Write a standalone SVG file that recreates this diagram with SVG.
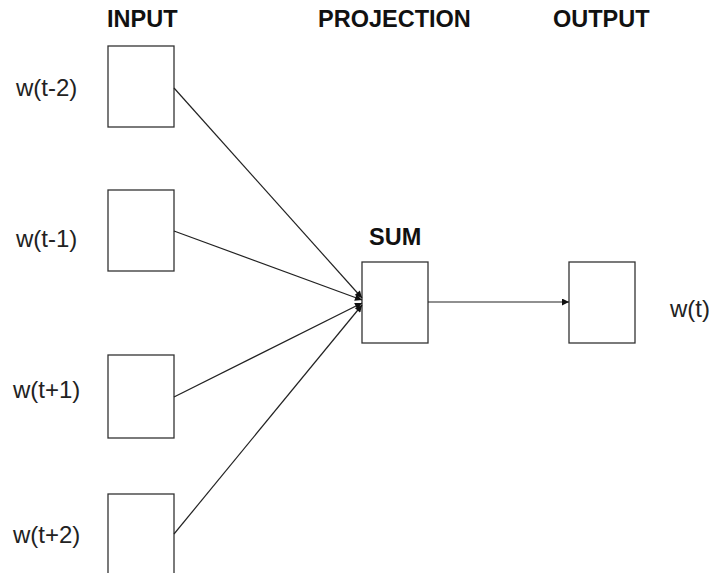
<svg xmlns="http://www.w3.org/2000/svg" width="709" height="573" viewBox="0 0 709 573">
<defs>
<marker id="ah" viewBox="0 0 10 10" refX="10" refY="5" markerWidth="9" markerHeight="7" markerUnits="userSpaceOnUse" orient="auto">
<path d="M0,0 L10,5 L0,10 z" fill="#111"/>
</marker>
<style>
.box{fill:#fff;stroke:#333;stroke-width:1.3}
.hdr{font-family:"Liberation Sans",Arial,sans-serif;font-weight:bold;font-size:23.5px;fill:#111}
.lbl{font-family:"Liberation Sans",Arial,sans-serif;font-size:24px;fill:#222}
.edge{stroke:#222;stroke-width:1.2;fill:none;marker-end:url(#ah)}
</style>
</defs>
<rect width="709" height="573" fill="#fff"/>
<text class="hdr" x="107" y="27">INPUT</text>
<text class="hdr" x="318" y="27">PROJECTION</text>
<text class="hdr" x="553" y="27">OUTPUT</text>
<g id="in1"><rect class="box" x="108" y="46" width="66" height="81"/><text class="lbl" x="16" y="96">w(t-2)</text></g>
<g id="in2"><rect class="box" x="108" y="190" width="66" height="81"/><text class="lbl" x="16" y="247">w(t-1)</text></g>
<g id="in3"><rect class="box" x="108" y="355" width="66" height="83"/><text class="lbl" x="13" y="398">w(t+1)</text></g>
<g id="in4"><rect class="box" x="108" y="494" width="66" height="82"/><text class="lbl" x="13" y="543">w(t+2)</text></g>
<g id="sum"><rect class="box" x="362" y="262" width="66" height="81"/><text class="hdr" x="369" y="245">SUM</text></g>
<g id="out"><rect class="box" x="569" y="262" width="66" height="81"/><text class="lbl" x="670" y="317">w(t)</text></g>
<g id="edges">
<line class="edge" x1="174" y1="88" x2="362" y2="298"/>
<line class="edge" x1="174" y1="231" x2="362" y2="300"/>
<line class="edge" x1="174" y1="397" x2="362" y2="303"/>
<line class="edge" x1="174" y1="534" x2="362" y2="305"/>
<line class="edge" x1="428" y1="302" x2="569" y2="302"/>
</g>
</svg>
